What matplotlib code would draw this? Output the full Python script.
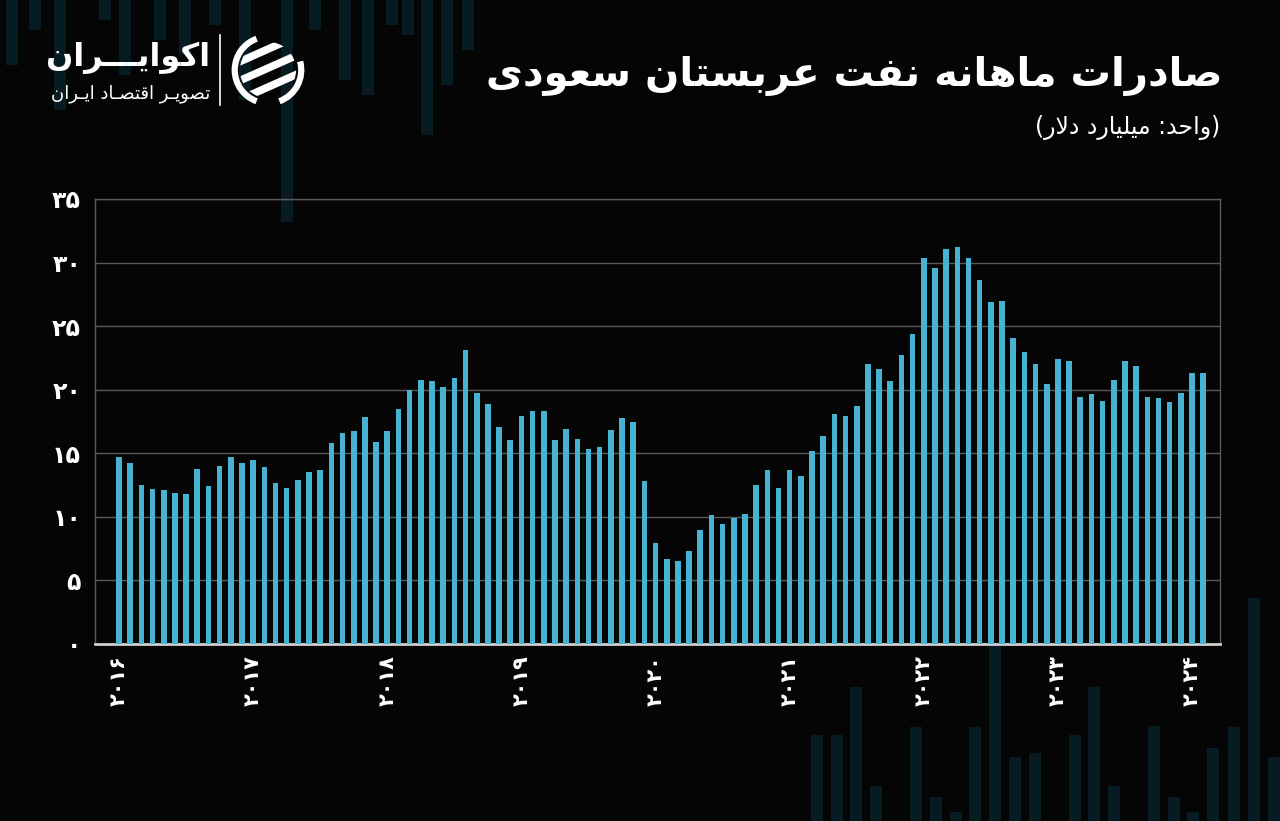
"""Saudi Arabia monthly oil exports (billion USD), dark poster style."""
import matplotlib
matplotlib.use("Agg")
import matplotlib.pyplot as plt
from matplotlib.patches import Rectangle, Arc, Circle
import numpy as np

W, H = 1280, 821

# monthly values, Jan 2016 .. Feb 2024 (billion USD)
values = [
    14.7, 14.2, 12.5, 12.2, 12.1, 11.9, 11.8, 13.8, 12.4, 14.0, 14.7, 14.2,   # 2016
    14.5, 13.9, 12.7, 12.3, 12.9, 13.5, 13.7, 15.8, 16.6, 16.75, 17.85, 15.9,  # 2017
    16.75, 18.45, 19.95, 20.75, 20.65, 20.25, 20.95, 23.1, 19.75, 18.85, 17.05, 16.05,  # 2018
    17.9, 18.35, 18.35, 16.05, 16.9, 16.1, 15.35, 15.5, 16.85, 17.75, 17.5, 12.8,  # 2019
    7.95, 6.65, 6.55, 7.35, 8.95, 10.15, 9.45, 9.9, 10.25, 12.5, 13.7, 12.3,   # 2020
    13.7, 13.2, 15.2, 16.35, 18.1, 17.9, 18.75, 22.05, 21.65, 20.65, 22.75, 24.4,  # 2021
    30.35, 29.55, 31.05, 31.25, 30.35, 28.65, 26.9, 27.0, 24.1, 23.0, 22.05, 20.45,  # 2022
    22.45, 22.25, 19.45, 19.65, 19.15, 20.75, 22.25, 21.85, 19.45, 19.35, 19.05, 19.75,  # 2023
    21.35, 21.35,  # 2024
]
year_labels = ["۲۰۱۶", "۲۰۱۷", "۲۰۱۸", "۲۰۱۹", "۲۰۲۰", "۲۰۲۱", "۲۰۲۲", "۲۰۲۳", "۲۰۲۴"]
y_ticks = [0, 5, 10, 15, 20, 25, 30, 35]
y_tick_labels = ["۰", "۵", "۱۰", "۱۵", "۲۰", "۲۵", "۳۰", "۳۵"]

TITLE = "صادرات ماهانه نفت عربستان سعودی"
SUBTITLE = "(واحد: میلیارد دلار)"
BRAND = "اکوایـــران"
BRAND_SUB = "تصویـر اقتصـاد ایـران"

BG = "#050505"
BAR = "#47b3d3"
DECOR = "#071b22"

# --- minimal Persian shaping (matplotlib has no complex text layout) ---
FORMS = {  # isolated, final, initial, medial
    "ا": ("\uFE8D", "\uFE8E", None, None),
    "د": ("\uFEA9", "\uFEAA", None, None),
    "ر": ("\uFEAD", "\uFEAE", None, None),
    "و": ("\uFEED", "\uFEEE", None, None),
    "ب": ("\uFE8F", "\uFE90", "\uFE91", "\uFE92"),
    "ت": ("\uFE95", "\uFE96", "\uFE97", "\uFE98"),
    "ح": ("\uFEA1", "\uFEA2", "\uFEA3", "\uFEA4"),
    "س": ("\uFEB1", "\uFEB2", "\uFEB3", "\uFEB4"),
    "ص": ("\uFEB9", "\uFEBA", "\uFEBB", "\uFEBC"),
    "ع": ("\uFEC9", "\uFECA", "\uFECB", "\uFECC"),
    "ف": ("\uFED1", "\uFED2", "\uFED3", "\uFED4"),
    "ق": ("\uFED5", "\uFED6", "\uFED7", "\uFED8"),
    "ل": ("\uFEDD", "\uFEDE", "\uFEDF", "\uFEE0"),
    "م": ("\uFEE1", "\uFEE2", "\uFEE3", "\uFEE4"),
    "ن": ("\uFEE5", "\uFEE6", "\uFEE7", "\uFEE8"),
    "ه": ("\uFEE9", "\uFEEA", "\uFEEB", "\uFEEC"),
    "ک": ("\uFB8E", "\uFB8F", "\uFB90", "\uFB91"),
    "ی": ("\uFBFC", "\uFBFD", "\uFBFE", "\uFBFF"),
    "ـ": ("ـ", "ـ", "ـ", "ـ"),
}
DUAL = {c for c, f in FORMS.items() if f[2] is not None}
MIRROR = {"(": ")", ")": "("}


def shape(s):
    out = []
    i = 0
    while i < len(s):
        c = s[i]
        prev = s[i - 1] if i > 0 else ""
        nxt = s[i + 1] if i + 1 < len(s) else ""
        jp = prev in DUAL and c in FORMS
        if c == "ل" and nxt == "ا":
            out.append("\uFEFC" if jp else "\uFEFB")
            i += 2
            continue
        if c not in FORMS:
            out.append(c)
            i += 1
            continue
        jn = c in DUAL and nxt in FORMS
        iso, fin, ini, med = FORMS[c]
        if jp and jn:
            out.append(med)
        elif jp:
            out.append(fin)
        elif jn:
            out.append(ini)
        else:
            out.append(iso)
        i += 1
    return "".join(MIRROR.get(ch, ch) for ch in reversed(out))


def fx(x):
    return x / W


def fy(y):
    return 1 - y / H


plt.rcParams["font.family"] = ["DejaVu Sans"]
fig = plt.figure(figsize=(W / 100, H / 100), dpi=100, facecolor=BG)

# background decoration: faint vertical strips (top-left hanging, bottom-right rising)
decor_top = [(12, 65), (35, 30), (60, 110), (105, 20), (125, 75), (160, 40), (185, 55),
             (215, 25), (245, 100), (287, 222), (315, 30), (345, 80), (368, 95),
             (392, 25), (408, 35), (427, 135), (447, 85), (468, 50)]
decor_bottom = [(817, 735), (837, 735), (856, 687), (876, 786), (916, 727), (936, 797),
                (956, 812), (975, 727), (995, 645), (1015, 757), (1035, 753), (1075, 735),
                (1094, 687), (1114, 786), (1154, 726), (1174, 797), (1193, 812),
                (1213, 748), (1234, 727), (1254, 598), (1274, 757)]
for xc, yb in decor_top:
    fig.add_artist(Rectangle((fx(xc - 6), fy(yb)), 12 / W, yb / H, transform=fig.transFigure,
                             color=DECOR, zorder=0, lw=0))
for xc, yt in decor_bottom:
    fig.add_artist(Rectangle((fx(xc - 6), 0), 12 / W, (H - yt) / H, transform=fig.transFigure,
                             color=DECOR, zorder=0, lw=0))

ax = fig.add_axes([fx(95), fy(644), (1220 - 95) / W, (644 - 199) / H])
ax.set_facecolor("none")
ax.set_zorder(2)
x = np.arange(len(values))
ax.bar(x, values, width=0.5, color=BAR, zorder=3)
ax.set_xlim(-2.15, len(values) + 0.5)
ax.set_ylim(0, 35)
ax.set_yticks(y_ticks)
ax.set_yticklabels(y_tick_labels, fontsize=17, fontweight="bold", color="white")
ax.set_xticks(x[::12])
ax.set_xticklabels(year_labels, rotation=90, fontsize=15, fontweight="bold", color="white",
                   va="top", ha="center")
ax.tick_params(axis="both", length=0)
ax.tick_params(axis="y", pad=10)
ax.tick_params(axis="x", pad=8)
ax.grid(axis="y", color="#5a5a5a", lw=1, zorder=1)
for side in ["left", "right", "top"]:
    ax.spines[side].set_color("#5a5a5a")
    ax.spines[side].set_linewidth(1)
ax.spines["bottom"].set_color("#d0d0d0")
ax.spines["bottom"].set_linewidth(2)

# titles
fig.text(fx(1222), fy(76), shape(TITLE), ha="right", va="center", fontsize=29,
         fontweight="bold", color="white")
fig.text(fx(1220), fy(128), shape(SUBTITLE), ha="right", va="center", fontsize=17,
         color="white")

# brand block
fig.text(fx(210), fy(58), shape(BRAND), ha="right", va="center", fontsize=23,
         fontweight="bold", color="white")
fig.text(fx(210), fy(94), shape(BRAND_SUB), ha="right", va="center", fontsize=13,
         color="white")
fig.add_artist(plt.Line2D([fx(220), fx(220)], [fy(35), fy(105)], transform=fig.transFigure,
                          color="white", lw=1.2))
icon = fig.add_axes([fx(230), fy(108), 76 / W, 76 / H])
icon.set_xlim(-1, 1)
icon.set_ylim(-1, 1)
icon.set_aspect("equal")
icon.axis("off")
icon.add_patch(Arc((0, 0), 1.75, 1.75, theta1=110, theta2=250, color="white", lw=4.5))
icon.add_patch(Arc((0, 0), 1.75, 1.75, theta1=290, theta2=15, color="white", lw=4.5))
clip = Circle((0, 0), 0.74, transform=icon.transData)
for y0 in [-0.5, 0.0, 0.5]:
    ln, = icon.plot([-0.9, 0.9], [y0 - 0.35, y0 + 0.45], color="white", lw=5.5,
                    solid_capstyle="butt")
    ln.set_clip_path(clip)

fig.savefig("out.png", dpi=100, facecolor=BG)
